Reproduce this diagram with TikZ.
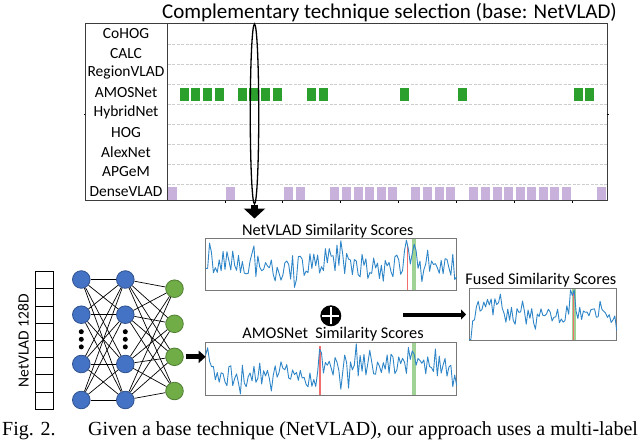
\documentclass[tikz,border=0pt]{standalone}
\usepackage{fontspec}
\setmainfont{Carlito}
\newfontfamily\capfont{Liberation Serif}
\usetikzlibrary{arrows.meta,shapes.geometric}
\definecolor{nnblue}{RGB}{68,114,196}
\definecolor{nnblueb}{RGB}{47,82,143}
\definecolor{nngreen}{RGB}{112,173,71}
\definecolor{nngreenb}{RGB}{80,126,50}
\definecolor{amos}{RGB}{44,160,44}
\definecolor{dense}{RGB}{200,178,220}
\definecolor{sigblue}{RGB}{46,134,200}
\definecolor{peakred}{RGB}{240,110,110}
\definecolor{peakgreen}{RGB}{160,210,150}
\definecolor{boxgray}{RGB}{120,120,120}
\definecolor{gridgray}{RGB}{205,205,205}
\begin{document}
\begin{tikzpicture}[x=1pt,y=-1pt,
  lbl/.style={font=\fontsize{15.5}{16}\selectfont, inner sep=0},
  ctitle/.style={font=\fontsize{16.3}{18}\selectfont, inner sep=0, anchor=base},
  chartbox/.style={draw=boxgray, line width=0.9pt, inner sep=0, outer sep=0},
  neuron/.style={circle, minimum size=17.6pt, inner sep=0, line width=0.8pt},
  bluen/.style={neuron, fill=nnblue, draw=nnblueb},
  greenn/.style={neuron, fill=nngreen, draw=nngreenb},
  conn/.style={line width=0.7pt},
  dotn/.style={circle, fill=black, minimum size=5pt, inner sep=0},
  cell/.style={draw, line width=1.1pt, minimum width=17.6pt, minimum height=17.2pt, inner sep=0},
  gridln/.style={draw=gridgray, line width=0.8pt, dash pattern=on 3pt off 1.5pt},
  sig/.style={draw=sigblue, line width=0.9pt, line join=round},
  redln/.style={draw=peakred, line width=1.2pt},
  downarrow/.style={line width=7pt, -{Triangle[length=10pt, width=21pt]}},
  nnarrow/.style={line width=5pt, -{Triangle[length=7pt, width=12pt]}},
  fusearrow/.style={line width=4pt, -{Triangle[length=5pt, width=10pt]}}
]
\useasboundingbox (0,0) rectangle (640,442);

% ---------- title ----------
\node[font=\fontsize{21}{24}\selectfont, inner sep=0, anchor=base] (title) at (389.5,18.5)
  {Complementary technique selection (base: NetVLAD)};

% ---------- selection chart ----------
\foreach \k in {0,...,7} \draw[gridln] (167.5,{44.3+19.96*\k}) -- (606.5,{44.3+19.96*\k});
\foreach \i in {1,2,3,4,6,7,8,9,12,13,20,25,35,36}
  \fill[amos] ({167+(\i+0.5)*11.58-4.5},87.5) rectangle +(9,13);
\foreach \i in {0,5,10,11,14,15,16,17,18,19,21,22,23,24,26,27,28,29,30,31,32,33,34,37}
  \fill[dense] ({167+(\i+0.5)*11.58-4.5},187.3) rectangle +(9,13);
\draw[line width=1pt, draw={rgb,255:red,60;green,60;blue,60}] (85,23.3) rectangle (607,200.5);
\draw[line width=0.9pt, draw={rgb,255:red,60;green,60;blue,60}] (167,23.3) -- (167,200.5);
\foreach \k in {1,...,7} \draw[line width=0.8pt] ({167+57.9*\k},200.5) -- ++(0,2);
\draw[line width=0.8pt] (85,114) -- ++(-1.5,0);
\draw[line width=0.8pt] (607,114) -- ++(1.5,0);

\foreach \n/\t [count=\k from 0] in {CoHOG/CoHOG,CALC/CALC,RegionVLAD/RegionVLAD,AMOSNet/AMOSNet,HybridNet/HybridNet,HOG/HOG,AlexNet/AlexNet,APGeM/APGeM,DenseVLAD/DenseVLAD}
  \node[lbl] (lab\n) at (126,{33.3+19.8*\k}) {\t};

\node[draw, ellipse, line width=1.3pt, minimum width=8.5pt, minimum height=180pt, inner sep=0] (sel) at (254.5,114) {};
\coordinate (dtip) at (254.5,218.5);
\draw[downarrow] (sel.south) -- (dtip);

% ---------- NetVLAD vector ----------
\foreach \k in {0,...,7} \node[cell] (cell\k) at (44.5,{280.3+17.2*\k}) {};
\node[font=\fontsize{15.5}{16}\selectfont, inner sep=0, rotate=90] (veclab) at (23.5,341) {NetVLAD 128D};

% ---------- neural network ----------
\foreach \y [count=\k] in {279.5,314.7,364,400} {
  \node[bluen] (i\k) at (81.3,\y) {};
  \node[bluen] (h\k) at (125.3,\y) {};
}
\foreach \y [count=\k] in {288.7,323.8,356.8,391}
  \node[greenn] (o\k) at (174.5,\y) {};
\foreach \a in {1,...,4} \foreach \b in {1,...,4} {
  \draw[conn] (i\a) -- (h\b);
  \draw[conn] (h\a) -- (o\b);
}
\foreach \y [count=\k] in {331.7,339.3,346.9} {
  \node[dotn] (di\k) at (81.3,\y) {};
  \node[dotn] (dh\k) at (125.3,\y) {};
}

% ---------- similarity charts ----------
\node[chartbox, minimum width=251pt, minimum height=52.4pt] (netbox) at (331.2,264.5) {};
\node[chartbox, minimum width=251pt, minimum height=52.7pt] (amosbox) at (331.2,368.7) {};
\node[chartbox, minimum width=147.7pt, minimum height=52.4pt] (fusedbox) at (542.85,314.5) {};

\node[ctitle] (nettitle) at (327.8,235) {NetVLAD Similarity Scores};
\node[ctitle] (amostitle) at (333,338.3) {AMOSNet\ \ Similarity Scores};
\node[ctitle] (fusedtitle) at (540.8,284.3) {Fused Similarity Scores};

% NetVLAD signal
\fill[peakgreen] (411.7,239) rectangle (415.7,290.2);
\draw[redln] (407.3,246) -- (407.3,290.2);
\pgfmathsetseed{11}
\draw[sig] plot[domain=0:1, samples=131, variable=\t]
  ({205.7+251*\t},{290.7-52.4*min(0.97,max(0.02,0.5+0.24*rand+0.22*(rand>0.8)-0.28*(rand<-0.82)+0.08*sin(900*\t)+0.45*max(0,1-abs(\t-0.8)/0.012)+0.12*max(0,1-abs(\t-0.83)/0.04)-0.35*(\t>0.985)))});

% AMOSNet signal
\fill[peakgreen] (411.7,343) rectangle (416,394.5);
\draw[redln] (320,346) -- (320,394.5);
\pgfmathsetseed{7}
\draw[sig] plot[domain=0:1, samples=131, variable=\t]
  ({205.7+251*\t},{395-52.7*min(0.97,max(0.02,0.36+0.22*rand+0.2*(rand>0.82)-0.3*(rand<-0.8)+0.22*(\t>0.455)+0.5*max(0,1-abs(\t-0.457)/0.01)+0.25*max(0,1-abs(\t-0.83)/0.025)+0.5*max(0,1-\t/0.03)-0.25*(\t>0.98)))});

% Fused signal
\fill[peakgreen] (572,289) rectangle (576,340.2);
\draw[redln] (573.6,292) -- (573.6,340.2);
\pgfmathsetseed{5}
\draw[sig] plot[domain=0:1, samples=81, variable=\t]
  ({469+147.7*\t},{340.7-52.4*min(0.97,max(0.02,0.52+0.2*rand+0.15*(rand>0.75)+0.18*max(0,1-abs(\t-0.13)/0.12)-0.12*max(0,1-abs(\t-0.45)/0.15)+0.5*max(0,1-abs(\t-0.706)/0.03)-0.55*max(0,1-\t/0.06)-0.5*max(0,1-(1-\t)/0.03)))});

% ---------- fusion symbols & arrows ----------
\node[circle, fill=black, minimum size=21pt, inner sep=0] (plus) at (330.8,315.8) {};
\draw[white, line width=2.2pt] ([yshift=-8.5pt]plus.center) -- ([yshift=8.5pt]plus.center);
\draw[white, line width=2.2pt] ([xshift=-8.5pt]plus.center) -- ([xshift=8.5pt]plus.center);

\draw[nnarrow, shorten <=2pt] (o3.east) -- (o3.east -| amosbox.west);
\coordinate (fstart) at (403,314.5);
\draw[fusearrow, shorten >=3pt] (fstart) -- (fusedbox.west);

% ---------- caption ----------
\node[font=\capfont\fontsize{20}{22}\selectfont, inner sep=0, anchor=base west] (caption) at (2,435)
  {\makebox[86pt][l]{Fig. 2.}Given a base technique (NetVLAD), our approach uses a multi-label};
\end{tikzpicture}
\end{document}
